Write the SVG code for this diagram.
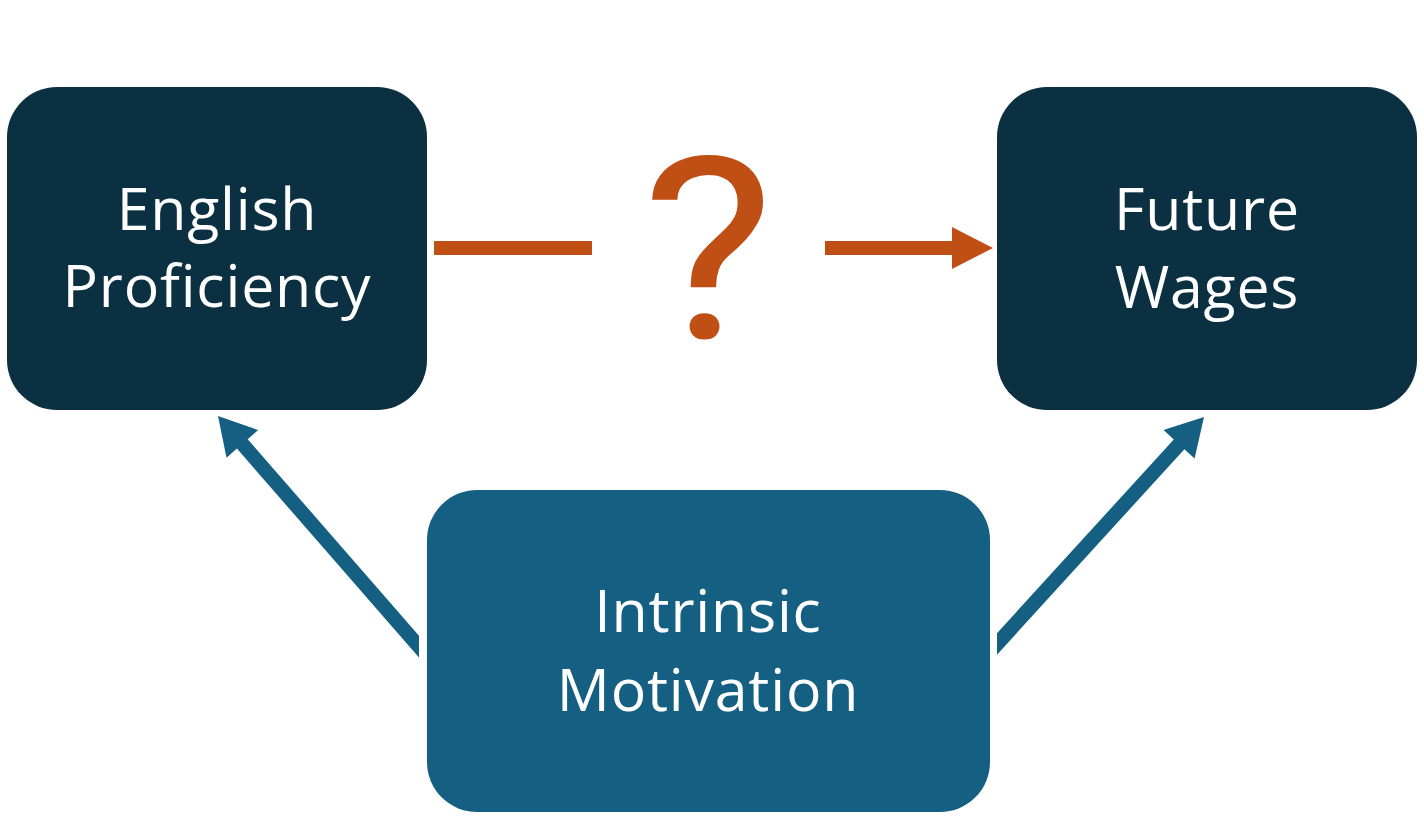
<svg xmlns="http://www.w3.org/2000/svg" width="1424" height="820" viewBox="0 0 1424 820">
<style>
.dark{fill:#0B3042}
.mid{fill:#156082}
.lbl{font-family:"Open Sans","Noto Sans",sans-serif;font-size:59px;letter-spacing:0.8px;fill:#FFFFFF;text-anchor:middle}
.q{font-family:Roboto,"Open Sans",sans-serif;font-size:254px;fill:#C04F15;text-anchor:middle}
.orange{fill:#C04F15}
.blue{fill:#156082}
</style>
<rect width="1424" height="820" fill="#FFFFFF"/>
<g id="english-proficiency">
<rect class="dark" x="7" y="87" width="420" height="323" rx="50"/>
<text class="lbl" x="217" y="230">English</text>
<text class="lbl" x="217" y="307">Proficiency</text>
</g>
<g id="future-wages">
<rect class="dark" x="997" y="87" width="420" height="323" rx="50"/>
<text class="lbl" x="1207" y="230">Future</text>
<text class="lbl" x="1207" y="308">Wages</text>
</g>
<g id="intrinsic-motivation">
<rect class="mid" x="427" y="490" width="563" height="322" rx="50"/>
<text class="lbl" x="708" y="632">Intrinsic</text>
<text class="lbl" x="708" y="711">Motivation</text>
</g>
<g id="connectors">
<rect class="orange" x="434" y="241" width="158" height="14"/>
<text class="q" transform="translate(708,338) scale(1.1,1)" x="0" y="0">?</text>
<polygon class="orange" points="825,241 952,241 952,227 993,248 952,269 952,255 825,255"/>
<polygon class="blue" points="218,416 258.1,430.1 247.7,439.2 419,635.8 419,657.6 236.9,448.6 226.5,457.7"/>
<polygon class="blue" points="1204,417 1194.6,458.5 1184.4,449.2 997,654.7 997,633.2 1173.8,439.4 1163.6,430.1"/>
</g>
</svg>
